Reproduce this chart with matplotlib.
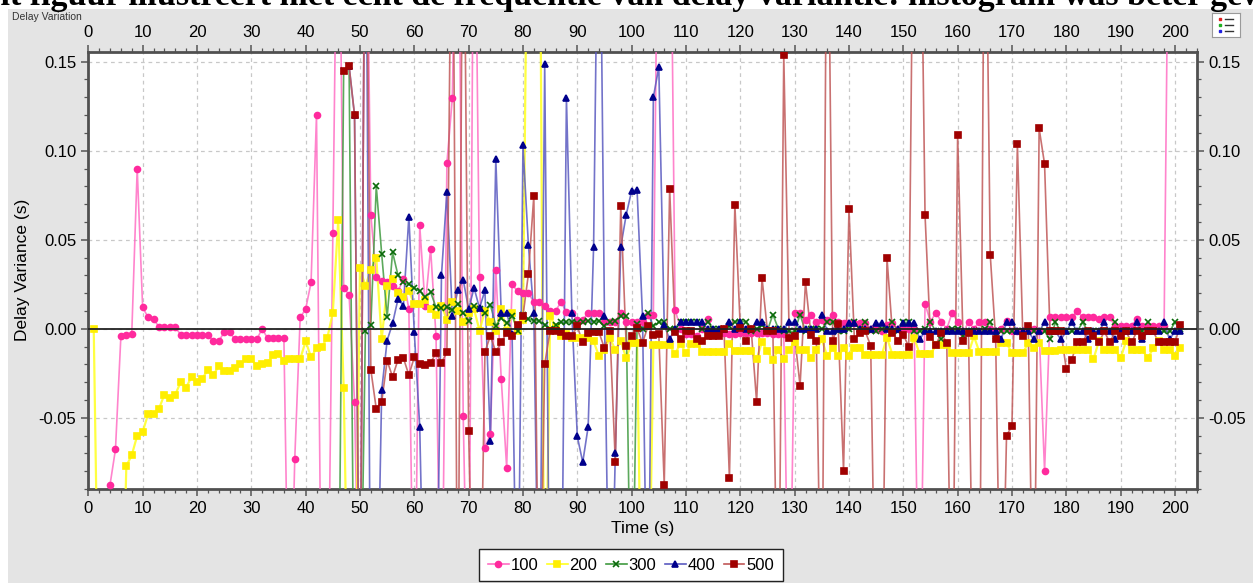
import matplotlib
matplotlib.use('Agg')
import matplotlib.pyplot as plt
import numpy as np
from matplotlib.lines import Line2D
from matplotlib.patches import Rectangle
from matplotlib.ticker import MultipleLocator, FormatStrFormatter

plt.rcParams['font.family'] = ['Liberation Sans', 'DejaVu Sans']
plt.rcParams['axes.unicode_minus'] = False

# ---- data: delay variance (s) per second, one list per load level ----
# values outside the visible range are the off-scale spikes
start_100 = 4
delay_100 = [
    -0.0876, -0.0678, -0.004, -0.0034, -0.0028, 0.090, 0.012,                          # 4..10
    0.0065, 0.0056, 0.001, 0.001, 0.001, 0.001, -0.0034, -0.0034, -0.0034, -0.0034,   # 11..20
    -0.0034, -0.0034, -0.007, -0.007, -0.002, -0.002, -0.006, -0.006, -0.006, -0.006,
    -0.006, 0.0, -0.0054, -0.0054, -0.0054, -0.0054, -0.2, -0.073, 0.0064, 0.011,
    0.026, 0.120, -0.2, -0.2, 0.054, 0.3, 0.023, 0.019, -0.041, -0.2,
    0.3, 0.064, 0.029, 0.027, 0.026, 0.024, 0.021, 0.028, 0.011, -0.2,
    0.058, 0.0125, 0.045, -0.0043, -0.2, 0.093, 0.1295, 0.3, -0.049, -0.2,
    0.3, 0.029, -0.067, -0.059, 0.033, -0.028, -0.078, 0.025, 0.021, 0.020,
    0.020, 0.015, 0.015, 0.013, 0.010, 0.010, 0.015, 0.0095, 0.009, 0.005,
    0.005, 0.0088, 0.0088, 0.0088, 0.004, 0.004, 0.004, 0.0088, 0.004, 0.004,
    0.004, 0.004, 0.0079, 0.008, 0.3, 0.3, 0.3, 0.0107, 0.0, -0.003,
    -0.003, -0.0043, 0.0, 0.0056, -0.0024, -0.0024, -0.0024, -0.003, -0.003, -0.0024,
    -0.0024, -0.0024, -0.0024, -0.0024, -0.0024, -0.003, -0.003, -0.003, -0.2, 0.009,
    0.009, 0.005, 0.008, 0.0036, 0.005, 0.005, 0.0075, 0.004, 0.003, 0.003,
    0.003, 0.003, 0.003, 0.0, 0.0, -0.0015, 0.002, 0.003, 0.0, 0.0,
    0.0, 0.0, -0.2, 0.014, 0.004, 0.009, 0.004, 0.0, 0.009, 0.004,
    -0.0024, 0.004, 0.0, 0.004, 0.004, 0.0, -0.001, 0.0, 0.0045, -0.001,
    -0.001, -0.001, 0.0, 0.0, -0.001, -0.080, 0.0064, 0.0064, 0.0064, 0.0064,
    0.0064, 0.010, 0.0064, 0.0064, 0.0064, 0.0056, 0.0064, 0.0064, 0.0013, 0.0013,
    0.0013, 0.0013, 0.0056, 0.0013, 0.0013, 0.0013, 0.0013, 0.0013, 0.3,               # 191..199
]

start_200 = 1
delay_200 = [
    0.0, -0.2, -0.2, -0.2, -0.2, -0.2, -0.077, -0.071, -0.060, -0.058,                # 1..10
    -0.048, -0.048, -0.045, -0.037, -0.039, -0.037, -0.030, -0.033, -0.027, -0.030,
    -0.028, -0.023, -0.026, -0.021, -0.024, -0.024, -0.022, -0.020, -0.017, -0.017,
    -0.021, -0.020, -0.019, -0.015, -0.014, -0.018, -0.017, -0.017, -0.017, -0.007,
    -0.016, -0.011, -0.010, -0.005, 0.009, 0.061, -0.033, -0.2, -0.2, 0.034,
    0.024, 0.033, 0.040, -0.006, 0.024, 0.028, 0.020, 0.018, 0.021, 0.014,
    0.014, 0.016, 0.011, 0.0075, 0.013, 0.005, 0.015, 0.010, 0.004, 0.009,
    0.011, -0.001, 0.010, 0.004, -0.001, 0.011, -0.0015, 0.009, -0.001, 0.005,
    0.3, 0.3, 0.3, -0.2, 0.007, 0.001, -0.004, -0.003, -0.005, -0.005,
    -0.005, -0.005, -0.007, -0.0155, -0.012, -0.005, -0.012, -0.007, -0.0165, -0.008,
    -0.008, -0.2, -0.2, -0.0094, -0.0094, -0.0094, -0.0094, -0.014, -0.0084, -0.0137,
    -0.0084, -0.0084, -0.013, -0.013, -0.013, -0.013, -0.013, -0.0084, -0.0127, -0.0127,
    -0.0127, -0.0127, -0.017, -0.0075, -0.0127, -0.0174, -0.0118, -0.017, -0.0118, -0.0075,
    -0.0118, -0.0118, -0.0165, -0.0118, -0.006, -0.0155, -0.011, -0.0155, -0.011, -0.0155,
    -0.011, -0.011, -0.015, -0.015, -0.015, -0.015, -0.005, -0.0146, -0.0146, -0.0146,
    -0.0146, -0.005, -0.0142, -0.0142, -0.0142, -0.0094, -0.0094, -0.0094, -0.0137, -0.0137,
    -0.0137, -0.0137, -0.0043, -0.013, -0.013, -0.013, -0.013, -0.008, -0.008, -0.0137,
    -0.0137, -0.0137, -0.008, -0.011, -0.008, -0.0127, -0.0127, -0.0127, -0.012, -0.012,
    -0.012, -0.012, -0.012, -0.012, -0.017, -0.007, -0.012, -0.012, -0.012, -0.0165,
    -0.007, -0.012, -0.012, -0.012, -0.0165, -0.011, -0.007, -0.012, -0.012, -0.0155,
    -0.011,                                                                             # 201
]

start_300 = 46
delay_300 = [
    -0.2, 0.145, 0.1475, -0.2, -0.2,                                                    # 46..50
    -0.001, 0.002, 0.080, 0.042, 0.0064, 0.043, 0.030, 0.026, 0.025, 0.023,
    0.021, 0.018, 0.0206, 0.012, 0.0116, 0.012, 0.0107, 0.014, 0.009, 0.0045,
    0.0125, 0.011, 0.0088, 0.0135, 0.0017, 0.006, 0.003, 0.0073, -0.001, 0.0075,
    0.0056, 0.0045, 0.0045, 0.0022, 0.0, 0.002, 0.0036, 0.0036, 0.004, 0.003,
    0.0036, 0.0045, 0.004, 0.0045, 0.0013, 0.0037, 0.0045, 0.007, 0.007, -0.2,
    0.0026, 0.0, 0.0088, 0.0013, 0.0037, 0.0037, 0.0, 0.0, 0.004, 0.0036,
    0.0036, 0.0036, 0.0, 0.004, 0.0, 0.0, 0.0, 0.0013, 0.004, 0.004,
    0.004, -0.001, 0.0, 0.002, -0.001, 0.008, 0.0, -0.0015, -0.0015, -0.0015,
    0.008, -0.0015, 0.0, 0.0, 0.0, 0.0036, 0.0036, -0.0015, -0.0015, 0.0,
    0.0036, 0.0, 0.0036, -0.0015, -0.0015, 0.0, 0.0, 0.0036, -0.0015, 0.0036,
    0.0036, -0.0015, -0.0015, 0.0, 0.0036, -0.0015, -0.006, -0.0015, 0.0, 0.0,
    -0.004, -0.0015, -0.0015, -0.0015, 0.0, 0.0036, -0.004, -0.0015, -0.0015, -0.0015,
    -0.0015, -0.0015, -0.0015, -0.0015, -0.0015, -0.0015, -0.006, 0.0036, -0.0015, -0.0015,
    -0.0015, -0.0015, 0.0036, -0.0015, -0.0015, -0.0015, -0.0015, -0.0015, 0.0036, -0.004,
    -0.0015, -0.0015, -0.0015, -0.0015, 0.0036, -0.0015, -0.0015, -0.0015, -0.0015, 0.0036,
    0.0,                                                                                # 201
]

start_400 = 48
delay_400 = [
    0.1475, 0.120, -0.2,                                                                # 48..50
    0.3, -0.2, -0.2, -0.0346, -0.0066, 0.003, 0.0167, 0.013, 0.063, -0.002,
    -0.055, -0.2, -0.2, -0.2, 0.030, 0.077, 0.007, 0.0215, 0.0275, 0.011,
    0.023, 0.0116, 0.0215, -0.063, 0.0955, 0.0088, 0.009, -0.003, -0.2, 0.103,
    0.047, 0.009, -0.2, 0.1487, -0.2, -0.2, -0.2, 0.1296, 0.0088, -0.0605,
    -0.075, -0.055, 0.046, 0.3, 0.0073, -0.2, -0.070, 0.046, 0.064, 0.0775,
    0.078, 0.007, -0.2, 0.130, 0.147, 0.002, -0.006, 0.0, 0.0036, 0.0036,
    0.0036, 0.0036, 0.0036, 0.0, 0.0, 0.0, 0.0, 0.0036, 0.0, 0.0036,
    0.0, 0.0, 0.0036, 0.0036, 0.0, 0.0, 0.0, 0.0, 0.0036, 0.0036,
    0.0, 0.0, 0.0, 0.0, 0.008, -0.0015, -0.0015, 0.0, 0.0, 0.003,
    0.003, 0.0, 0.0, 0.0, 0.003, 0.003, 0.0, 0.0, 0.0, 0.003,
    0.003, 0.003, -0.006, -0.0015, -0.0015, -0.0015, -0.0015, -0.0015, -0.0015, -0.0015,
    -0.0015, -0.0015, -0.0015, -0.0015, -0.0015, -0.0015, -0.0015, -0.006, 0.0036, 0.0036,
    -0.0015, -0.0015, -0.0015, -0.006, -0.0015, 0.0036, -0.0015, -0.0015, -0.006, -0.0015,
    0.0036, -0.0015, -0.0015, -0.006, -0.0015, -0.0015, 0.0036, -0.0015, -0.006, -0.0015,
    -0.0015, -0.0015, 0.0036, -0.006, -0.0015, -0.0015, -0.0015, 0.0036, -0.006, -0.0015,
    -0.0015,                                                                            # 201
]

start_500 = 47
delay_500 = [
    0.145, 0.1475, 0.120, -0.2,                                                         # 47..50
    0.3, -0.023, -0.045, -0.041, -0.018, -0.027, -0.0174, -0.0165, -0.026, -0.016,
    -0.0197, -0.0206, -0.019, -0.0137, -0.019, -0.0133, 0.3, -0.2, 0.3, -0.0577,
    -0.2, -0.2, -0.013, -0.004, -0.013, -0.0075, -0.0024, -0.004, 0.0022, 0.0073,
    0.0307, 0.0747, -0.2, -0.020, -0.001, -0.001, -0.002, -0.004, -0.004, 0.0013,
    -0.0077, -0.0024, -0.002, -0.002, -0.011, -0.0015, -0.075, 0.069, -0.0095, -0.004,
    0.0004, -0.008, 0.0013, -0.0034, -0.003, -0.0876, 0.0786, -0.002, -0.006, -0.0015,
    -0.0015, -0.006, -0.007, -0.004, -0.004, -0.004, 0.0, -0.084, 0.0697, 0.0004,
    -0.007, 0.0, -0.041, 0.0285, -0.0015, -0.0015, -0.2, 0.154, -0.005, -0.004,
    -0.032, 0.0262, -0.0034, -0.007, -0.2, 0.3, -0.007, 0.0026, -0.0797, 0.067,
    -0.006, -0.0024, -0.0015, -0.0096, -0.2, -0.2, 0.0397, -0.0024, -0.0066, -0.0034,
    -0.010, 0.3, 0.3, 0.064, -0.0047, -0.009, -0.0024, -0.008, -0.2, 0.109,
    -0.007, -0.0024, -0.2, -0.2, 0.3, 0.0416, -0.006, -0.2, -0.060, -0.0545,
    0.1035, -0.004, 0.0013, -0.2, 0.1125, 0.0925, -0.0015, -0.0015, -0.0015, -0.0227,
    -0.0174, -0.0077, -0.0077, -0.0015, -0.004, -0.0077, -0.0015, -0.0077, -0.0015, -0.004,
    -0.0015, -0.0077, -0.0015, -0.004, -0.0015, -0.0015, -0.0077, -0.0077, -0.0077, -0.0077,
    0.0022,                                                                             # 201
]

labels = ['100', '200', '300', '400', '500']
starts = [start_100, start_200, start_300, start_400, start_500]
series = [delay_100, delay_200, delay_300, delay_400, delay_500]
line_colors = ['#ff6ec4', '#ffff20', '#3f9a3f', '#5a5ac0', '#c05858']
marker_colors = ['#ff2a9d', '#ffee00', '#0a6a0a', '#00008c', '#a00000']
markers = ['o', 's', 'x', '^', 's']
msizes = [4.3, 5.0, 4.5, 4.6, 4.4]

W, H = 1253, 583
fig = plt.figure(figsize=(W / 100, H / 100), dpi=100)
fig.patches.append(Rectangle((8 / W, 0), 1, 1 - 9 / H, transform=fig.transFigure,
                             facecolor='#e4e4e4', edgecolor='none', zorder=-5))

# clipped remark of the page above the screenshot (only its lower edge shows)
fig.text(-24 / W, 1 - 5 / H,
         'Dit figuur illustreert niet echt de frequentie van delay variantie: histogram was beter geweest',
         fontfamily='Liberation Serif', fontweight='bold', fontsize=24.5, va='baseline', ha='left')
fig.text(12 / W, 1 - 20 / H, 'Delay Variation', fontsize=7.5, color='#333333')

ax = fig.add_axes([88.3 / W, 1 - 489 / H, (1196.7 - 88.3) / W, (489 - 51.7) / H])
ax.set_facecolor('white')

handles = []
for lab, st, vals, lc, mc, mk, ms in zip(labels, starts, series, line_colors,
                                          marker_colors, markers, msizes):
    t = np.arange(st, st + len(vals))
    v = np.array(vals, dtype=float)
    lw = 1.6 if lab == '200' else 1.2
    ax.plot(t, v, color=lc, lw=lw, alpha=0.85, zorder=3)
    ax.plot(t, v, ls='none', marker=mk, ms=ms, color=mc, mec=mc, mew=1.2, zorder=4)
    handles.append(Line2D([], [], color=lc, lw=1.2, marker=mk, ms=ms, mfc=mc, mec=mc, mew=1.2))

ax.axhline(0, color='#222222', lw=1.3, zorder=5)

ax.set_xlim(0, 204)
ax.set_ylim(-0.090, 0.1556)
ax.xaxis.set_major_locator(MultipleLocator(10))
ax.xaxis.set_minor_locator(MultipleLocator(2))
ax.yaxis.set_major_locator(MultipleLocator(0.05))
ax.yaxis.set_minor_locator(MultipleLocator(0.01))
ax.yaxis.set_major_formatter(FormatStrFormatter('%.2f'))
ax.grid(True, which='major', ls=(0, (3, 3)), color='#c8c8c8', lw=0.9, zorder=0)

ax.tick_params(which='both', direction='out', top=True, right=True,
               labeltop=True, labelright=True, color='#555555', labelsize=12)
ax.tick_params(which='major', length=5, width=1.1)
ax.tick_params(which='minor', length=3, width=0.9)
for sp in ax.spines.values():
    sp.set_color('#505050')
    sp.set_linewidth(2)

ax.set_xlabel('Time (s)', fontsize=12.5, labelpad=4)
ax.set_ylabel('Delay Variance (s)', fontsize=12.5, labelpad=6)

fig.legend(handles, labels, loc='center', bbox_to_anchor=(631 / W, 1 - 565 / H),
           ncol=5, fontsize=12, frameon=True, fancybox=False, edgecolor='#222222',
           framealpha=1, borderpad=0.5, handlelength=1.25, handletextpad=0.12,
           columnspacing=0.5)

# small legend toggle icon in the corner
icon = fig.add_axes([1212 / W, 1 - 37 / H, 28 / W, 24 / H])
icon.set_facecolor('white')
icon.set_xlim(0, 1)
icon.set_ylim(0, 1)
icon.set_xticks([])
icon.set_yticks([])
for sp in icon.spines.values():
    sp.set_color('#9a9a9a')
for yy, cc in zip([0.75, 0.5, 0.25], ['#e02020', '#20b020', '#2020e0']):
    icon.plot([0.3], [yy], 's', ms=2, color=cc)
    icon.plot([0.45, 0.75], [yy, yy], color='#333333', lw=1)

fig.savefig('out.png', dpi=100)
